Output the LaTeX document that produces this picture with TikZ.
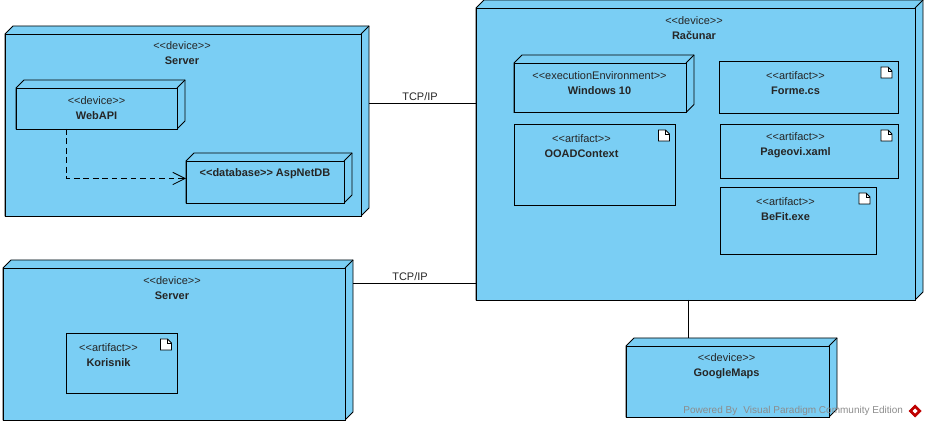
\documentclass[tikz,border=0pt]{standalone}
\usepackage{fontspec}
\setmainfont{Liberation Sans}
\usetikzlibrary{fit}
\usetikzlibrary{arrows.meta}

\definecolor{vpblue}{HTML}{7ACEF4}
\tikzset{
  face/.style={draw=black, fill=vpblue, line width=0.48pt, line join=miter},
  outer/.style={inner sep=0pt, outer sep=0pt, fit={#1}},
  title/.style={align=center, inner sep=0pt, text=black!85, font=\fontsize{6.25}{8.5}\selectfont},
  link/.style={line width=0.48pt},
  tcp/.style={above=1pt, inner sep=0pt, text=black!85, font=\fontsize{6.25}{8.5}\selectfont},
}
\newcommand{\devicebox}[5]{
  \draw[face] (#2,#3) -- (#2+8,#3-8) -- (#4+8,#3-8) -- (#4+8,#5-8) -- (#4,#5) -- (#2,#5) -- cycle;
  \draw[face] (#2,#3) rectangle (#4,#5);
  \draw[link] (#4,#3) -- (#4+8,#3-8);
  \coordinate (tl) at (#2,#3-8);
  \coordinate (br) at (#4+8,#5);
  \node[outer={(tl)(br)}] (#1) {};
}
\newcommand{\artifactbox}[5]{
  \draw[face] (#2,#3) rectangle (#4,#5);
  \draw[link, fill=white] (#4-17,#3+6) -- (#4-10,#3+6) -- (#4-6,#3+10) -- (#4-6,#3+17) -- (#4-17,#3+17) -- cycle;
  \draw[link] (#4-10,#3+6) -- (#4-10,#3+10) -- (#4-6,#3+10);
  \coordinate (tl) at (#2,#3);
  \coordinate (br) at (#4,#5);
  \node[outer={(tl)(br)}] (#1) {};
}
\newcommand{\stereo}[1]{<{}<#1>{}>}

\begin{document}
\begin{tikzpicture}[x=0.02cm, y=-0.02cm]

  \useasboundingbox (0,0) rectangle (927,428);

  \devicebox{serverA}{5}{34}{361}{216}
  \node[title] (serverAtext) at (182,53.5) {\stereo{device}\\\textbf{Server}};
  \devicebox{webapi}{16}{88}{177}{129}
  \node[title] (webapitext) at (96.5,108.5) {\stereo{device}\\\textbf{WebAPI}};
  \devicebox{aspnet}{186}{161}{344}{203}
  \node[title] (aspnettext) at (265,174) {\textbf{\stereo{database} AspNetDB}};

  \devicebox{serverB}{3}{268}{345}{420}
  \node[title] (serverBtext) at (172,288.5) {\stereo{device}\\\textbf{Server}};
  \artifactbox{korisnik}{66.5}{333}{177.5}{393}
  \node[title] (korisniktext) at (108.5,355.5) {\stereo{artifact}\\\textbf{Korisnik}};

  \devicebox{racunar}{476}{8}{915}{300}
  \node[title] (racunartext) at (694,28.5) {\stereo{device}\\\textbf{Računar}};
  \devicebox{windows}{514}{63}{686}{112.5}
  \node[title] (windowstext) at (599.5,83.5) {\stereo{executionEnvironment}\\\textbf{Windows 10}};
  \artifactbox{forme}{719}{61}{898}{113}
  \node[title] (formetext) at (795.5,83.5) {\stereo{artifact}\\\textbf{Forme.cs}};
  \artifactbox{ooad}{514}{124}{675.5}{205}
  \node[title] (ooadtext) at (581.5,146.5) {\stereo{artifact}\\\textbf{OOADContext}};
  \artifactbox{pageovi}{720}{124}{898}{178}
  \node[title] (pageovitext) at (795.5,145.5) {\stereo{artifact}\\\textbf{Pageovi.xaml}};
  \artifactbox{befit}{720}{187}{876}{254}
  \node[title] (befittext) at (785.5,209.5) {\stereo{artifact}\\\textbf{BeFit.exe}};

  \devicebox{google}{626}{346}{829}{417}
  \node[title] (googletext) at (726.5,366.5) {\stereo{device}\\\textbf{GoogleMaps}};

  \coordinate (tcpA) at (420,103);
  \coordinate (tcpB) at (410,283);
  \coordinate (drop) at (688,320);
  \coordinate (dep) at (66.5,178.5);

  \draw[link] (serverA.east |- tcpA) -- (racunar.west |- tcpA);
  \node[tcp] (tcpAtext) at (tcpA) {TCP/IP};
  \draw[link] (serverB.east |- tcpB) -- (racunar.west |- tcpB);
  \node[tcp] (tcpBtext) at (tcpB) {TCP/IP};
  \draw[link] (racunar.south -| drop) -- (drop |- google.north);
  \draw[link, dashed, dash pattern=on 3.2pt off 2.2pt, -{Straight Barb[length=7pt, width=7pt]}] (webapi.south -| dep) -- (dep) -- (aspnet.west |- dep);

  \node[anchor=west, inner sep=0pt, text=black!45, font=\fontsize{5.7}{8}\selectfont] (powered) at (683,411) {Powered By\hspace{3.5pt}Visual Paradigm Community Edition};
  \draw[fill=red!75!black, draw=red!75!black] (915,405) -- (921,411) -- (915,417) -- (909,411) -- cycle;
  \draw[fill=white, draw=white] (915,409) -- (917,411) -- (915,413) -- (913,411) -- cycle;
\end{tikzpicture}
\end{document}
